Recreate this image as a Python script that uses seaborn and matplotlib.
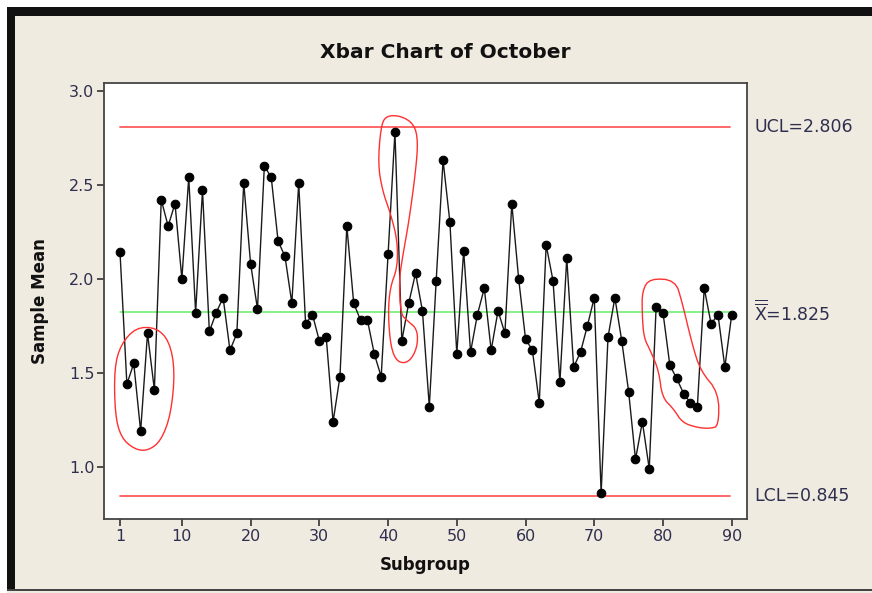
import numpy as np
import pandas as pd
import matplotlib
matplotlib.use("Agg")
import matplotlib.pyplot as plt
from matplotlib.patches import Rectangle, Polygon
import seaborn as sns

# Subgroup means for October
subgroups = list(range(1, 91))
sample_means = [
    2.14, 1.44, 1.55, 1.19, 1.71, 1.41, 2.42, 2.28, 2.40, 2.00,
    2.54, 1.82, 2.47, 1.72, 1.82, 1.90, 1.62, 1.71, 2.51, 2.08,
    1.84, 2.60, 2.54, 2.20, 2.12, 1.87, 2.51, 1.76, 1.81, 1.67,
    1.69, 1.24, 1.48, 2.28, 1.87, 1.78, 1.78, 1.60, 1.48, 2.13,
    2.78, 1.67, 1.87, 2.03, 1.83, 1.32, 1.99, 2.63, 2.30, 1.60,
    2.15, 1.61, 1.81, 1.95, 1.62, 1.83, 1.71, 2.40, 2.00, 1.68,
    1.62, 1.34, 2.18, 1.99, 1.45, 2.11, 1.53, 1.61, 1.75, 1.90,
    0.86, 1.69, 1.90, 1.67, 1.40, 1.04, 1.24, 0.99, 1.85, 1.82,
    1.54, 1.47, 1.39, 1.34, 1.32, 1.95, 1.76, 1.81, 1.53, 1.81,
]

# Control limits
ucl = 2.806
center = 1.825
lcl = 0.845

x_ticks = [1, 10, 20, 30, 40, 50, 60, 70, 80, 90]
y_ticks = [1.0, 1.5, 2.0, 2.5, 3.0]

# Hand-drawn outlines around the runs of interest (data coordinates)
loop_low_start = [(0.17, 1.528), (1.15, 1.653), (3.33, 1.741), (6.23, 1.741),
                  (8.17, 1.670), (9.0, 1.511), (8.41, 1.280), (6.96, 1.138),
                  (5.03, 1.085), (3.08, 1.094), (1.15, 1.156), (0.27, 1.280)]
loop_peak = [(39.66, 2.867), (41.84, 2.867), (43.78, 2.823), (44.36, 2.734),
             (44.02, 2.574), (43.05, 2.309), (42.09, 2.113), (41.60, 1.989),
             (41.84, 1.812), (42.81, 1.777), (44.27, 1.732), (44.27, 1.635),
             (43.05, 1.555), (41.36, 1.555), (40.39, 1.635), (40.00, 1.812),
             (40.29, 1.954), (41.36, 2.060), (41.36, 2.202), (40.39, 2.344),
             (39.18, 2.468), (38.54, 2.610), (38.94, 2.805)]
loop_decline = [(76.97, 1.936), (78.08, 2.002), (81.81, 1.993), (82.79, 1.874),
                (84.24, 1.653), (85.45, 1.511), (88.11, 1.395), (88.11, 1.218),
                (86.90, 1.204), (84.97, 1.209), (82.79, 1.236), (81.57, 1.307),
                (79.88, 1.369), (79.39, 1.511), (78.18, 1.617), (77.21, 1.688),
                (76.97, 1.812)]


def chaikin(points, iterations=2):
    pts = np.asarray(points, dtype=float)
    for _ in range(iterations):
        nxt = np.roll(pts, -1, axis=0)
        q = 0.75 * pts + 0.25 * nxt
        r = 0.25 * pts + 0.75 * nxt
        pts = np.empty((2 * len(q), 2))
        pts[0::2] = q
        pts[1::2] = r
    return pts


sns.set_style("white")
plt.rcParams["font.family"] = ["DejaVu Sans"]

W, H = 872, 593
bg = "#F0EBE1"
text_col = "#2e2e4e"

fig = plt.figure(figsize=(W / 100, H / 100), dpi=100)
fig.patch.set_facecolor("white")

# Window frame: beige panel with a black top bar and left edge
fig.patches.append(Rectangle((7 / W, 0), 1 - 7 / W, 1 - 7 / H, transform=fig.transFigure,
                             facecolor=bg, edgecolor="none", zorder=-3))
fig.patches.append(Rectangle((7 / W, 1 - 16 / H), 1 - 7 / W, 9 / H, transform=fig.transFigure,
                             facecolor="#111111", edgecolor="none", zorder=-2))
fig.patches.append(Rectangle((7 / W, 3 / H), 8 / W, 1 - 10 / H, transform=fig.transFigure,
                             facecolor="#111111", edgecolor="none", zorder=-2))
fig.patches.append(Rectangle((7 / W, 2 / H), 1 - 7 / W, 2 / H, transform=fig.transFigure,
                             facecolor="#444444", edgecolor="none", zorder=-2))

ax = fig.add_axes([104 / W, 1 - 519 / H, (746.5 - 104) / W, (519 - 83) / H])
ax.set_facecolor("white")

df = pd.DataFrame({"Subgroup": subgroups, "Sample Mean": sample_means})

# Control limit lines
ax.axhline(ucl, xmin=0.025, xmax=0.975, color="#FF5A5A", lw=1.3, zorder=1)
ax.axhline(lcl, xmin=0.025, xmax=0.975, color="#FF5A5A", lw=1.3, zorder=1)
ax.axhline(center, xmin=0.025, xmax=0.975, color="#66EE66", lw=1.1, zorder=1)

sns.lineplot(data=df, x="Subgroup", y="Sample Mean", ax=ax, color="#1a1a1a",
             linewidth=1.0, marker="o", markersize=6.2, markerfacecolor="black",
             markeredgecolor="black", zorder=3)

for loop in (loop_low_start, loop_peak, loop_decline):
    ax.add_patch(Polygon(chaikin(loop), closed=True, fill=False,
                         edgecolor="#FF3030", lw=1.0, zorder=4))

ax.set_xlim(-1.33, 92.15)
ax.set_ylim(0.723, 3.041)
ax.set_xticks(x_ticks)
ax.set_yticks(y_ticks)
ax.set_yticklabels([f"{v:.1f}" for v in y_ticks])
ax.tick_params(axis="both", direction="out", length=5, width=1.2, color="#333333",
               labelsize=11.5, labelcolor=text_col, pad=2, left=True, bottom=True)
for s in ax.spines.values():
    s.set_color("#444444")
    s.set_linewidth(1.3)

ax.set_xlabel("Subgroup", fontsize=12, fontweight="bold", color="#111111", labelpad=9)
ax.set_ylabel("Sample Mean", fontsize=12, fontweight="bold", color="#111111", labelpad=14)

fig.text(445 / W, 1 - 52 / H, "Xbar Chart of October", ha="center", va="center",
         fontsize=14.5, fontweight="bold", color="#111111",
         family=["Liberation Sans Narrow", "DejaVu Sans"])

ax.text(1.012, ucl, f"UCL={ucl:.3f}", transform=ax.get_yaxis_transform(),
        ha="left", va="center", fontsize=12.5, color=text_col)
ax.text(1.012, center, r"$\overline{\overline{\mathrm{X}}}$" + f"={center:.3f}",
        transform=ax.get_yaxis_transform(), ha="left", va="center", fontsize=12.5,
        color=text_col)
ax.text(1.012, lcl, f"LCL={lcl:.3f}", transform=ax.get_yaxis_transform(),
        ha="left", va="center", fontsize=12.5, color=text_col)

fig.savefig("out.png", dpi=100)
